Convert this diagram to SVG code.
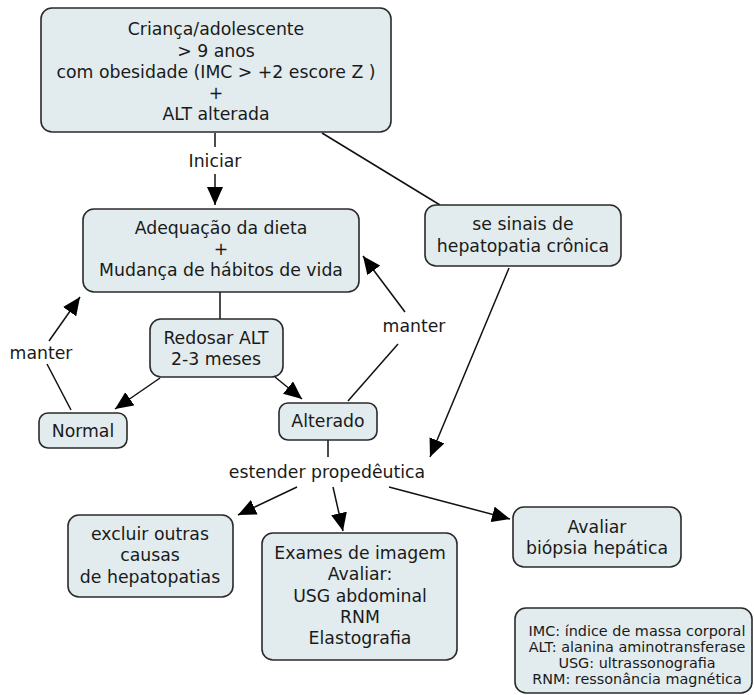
<svg xmlns="http://www.w3.org/2000/svg" width="754" height="695" viewBox="0 0 754 695">
<style>
.n{fill:#e2ecee;stroke:#2a2a2a;stroke-width:1.6}
text{font-family:"DejaVu Sans",Verdana,sans-serif;font-size:17.3px;fill:#1a1a1a;text-anchor:middle}
.s{font-size:14.4px}
.c{stroke:#111;stroke-width:1.5;fill:none}
</style>
<defs>
<marker id="a" markerUnits="userSpaceOnUse" markerWidth="20" markerHeight="16" refX="18" refY="8" orient="auto">
<path d="M0,0 L18,8 L0,16 Z" fill="#000"/>
</marker>
</defs>
<rect width="754" height="695" fill="#fff"/>
<g id="connectors">
<line class="c" x1="215" y1="133" x2="215" y2="147"/>
<line class="c" x1="215" y1="174" x2="215" y2="205" marker-end="url(#a)"/>
<line class="c" x1="322" y1="133" x2="440" y2="205"/>
<line class="c" x1="220" y1="292" x2="220" y2="319"/>
<line class="c" x1="160" y1="378" x2="115" y2="409" marker-end="url(#a)"/>
<line class="c" x1="275" y1="377" x2="302" y2="399" marker-end="url(#a)"/>
<line class="c" x1="71" y1="410" x2="47" y2="364"/>
<line class="c" x1="49" y1="341" x2="80" y2="297" marker-end="url(#a)"/>
<line class="c" x1="348" y1="401" x2="398" y2="344"/>
<line class="c" x1="405" y1="312" x2="363" y2="256" marker-end="url(#a)"/>
<line class="c" x1="509" y1="268" x2="430" y2="457" marker-end="url(#a)"/>
<line class="c" x1="328" y1="440" x2="328" y2="457"/>
<line class="c" x1="297" y1="487" x2="238" y2="515" marker-end="url(#a)"/>
<line class="c" x1="333" y1="487" x2="343" y2="531" marker-end="url(#a)"/>
<line class="c" x1="389" y1="487" x2="510" y2="519" marker-end="url(#a)"/>
<text x="215" y="167">Iniciar</text>
<text x="41" y="359">manter</text>
<text x="414" y="332">manter</text>
<text x="327" y="478">estender propedêutica</text>
</g>
<g id="n1">
<rect class="n" x="41" y="8" width="350" height="124" rx="11"/>
<text x="216" y="35">Criança/adolescente</text>
<text x="216" y="57">&gt; 9 anos</text>
<text x="216" y="78">com obesidade (IMC &gt; +2 escore Z )</text>
<text x="216" y="99">+</text>
<text x="216" y="120">ALT alterada</text>
</g>
<g id="n2">
<rect class="n" x="83" y="209" width="276" height="83" rx="11"/>
<text x="221" y="234">Adequação da dieta</text>
<text x="221" y="255">+</text>
<text x="221" y="276">Mudança de hábitos de vida</text>
</g>
<g id="n3">
<rect class="n" x="150" y="319" width="133" height="58" rx="11"/>
<text x="216" y="344">Redosar ALT</text>
<text x="216" y="365">2-3 meses</text>
</g>
<g id="n4">
<rect class="n" x="39" y="413" width="88" height="35" rx="9"/>
<text x="83" y="437">Normal</text>
</g>
<g id="n5">
<rect class="n" x="279" y="403" width="98" height="37" rx="9"/>
<text x="328" y="427">Alterado</text>
</g>
<g id="n6">
<rect class="n" x="425" y="205" width="196" height="61" rx="11"/>
<text x="523" y="230">se sinais de</text>
<text x="523" y="252">hepatopatia crônica</text>
</g>
<g id="n7">
<rect class="n" x="68" y="515" width="165" height="82" rx="11"/>
<text x="150" y="540">excluir outras</text>
<text x="150" y="561">causas</text>
<text x="150" y="583">de hepatopatias</text>
</g>
<g id="n8">
<rect class="n" x="262" y="533" width="195" height="127" rx="11"/>
<text x="360" y="559">Exames de imagem</text>
<text x="360" y="580">Avaliar:</text>
<text x="360" y="602">USG abdominal</text>
<text x="360" y="623">RNM</text>
<text x="360" y="644">Elastografia</text>
</g>
<g id="n9">
<rect class="n" x="513" y="507" width="168" height="60" rx="11"/>
<text x="597" y="533">Avaliar</text>
<text x="597" y="554">biópsia hepática</text>
</g>
<g id="legend">
<rect class="n" x="515" y="608" width="237" height="85" rx="11"/>
<text class="s" x="637" y="636">IMC: índice de massa corporal</text>
<text class="s" x="637" y="652">ALT: alanina aminotransferase</text>
<text class="s" x="637" y="668">USG: ultrassonografia</text>
<text class="s" x="637" y="684">RNM: ressonância magnética</text>
</g>
</svg>
